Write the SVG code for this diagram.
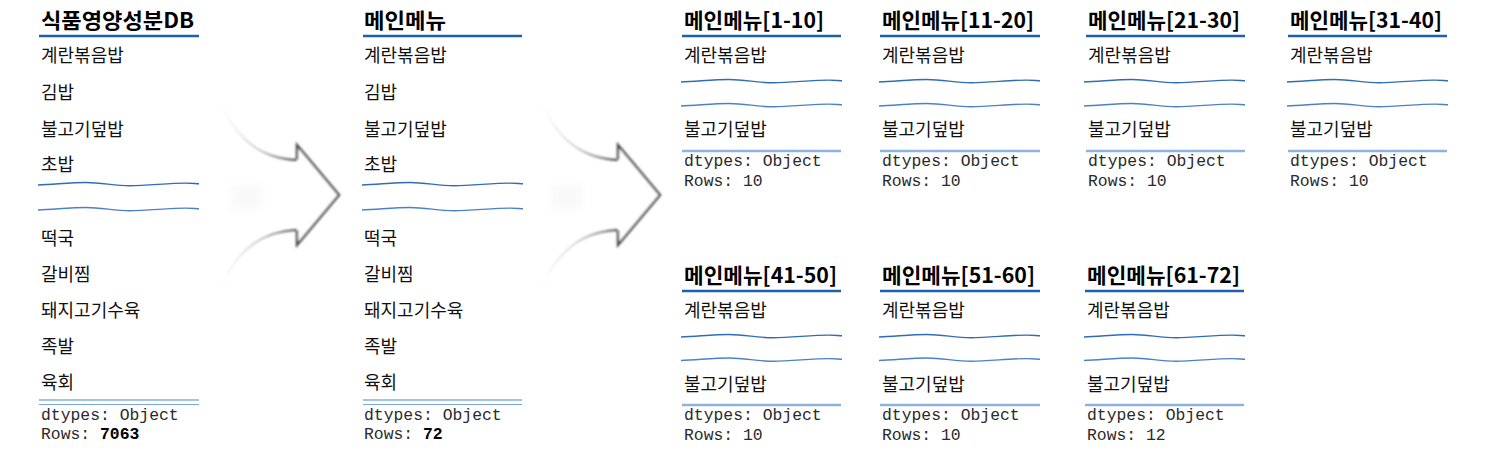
<svg xmlns="http://www.w3.org/2000/svg" xmlns:xlink="http://www.w3.org/1999/xlink" width="1487" height="457" viewBox="0 0 1487 457">
<style>
  .hd { font-family: "Noto Sans CJK KR", "Noto Sans", sans-serif; font-size: 21px; font-weight: 700; fill: #000; }
  .it { font-family: "Noto Sans CJK KR", "Noto Sans", sans-serif; font-size: 18px; fill: #111; }
  .mono { font-family: "Liberation Mono", "DejaVu Sans Mono", monospace; font-size: 16.4px; fill: #2a2a2a; }
  .mono .b { font-weight: 700; fill: #000; }
  .hline { stroke: #1f5fab; stroke-width: 2.4; fill: none; }
  .wave { stroke: #2f6db6; stroke-width: 1.4; fill: none; }
  .wave2 { stroke: #4a82c6; stroke-width: 1.4; fill: none; }
  .bline { stroke: #8fb3df; stroke-width: 2.5; fill: none; }
  .dline { stroke: #4a87c9; stroke-width: 1.2; fill: none; }
  .dline2 { stroke: #7aa6d8; stroke-width: 1.2; fill: none; }
  .head { stroke: #4a4a4a; stroke-width: 2.4; fill: #ffffff; stroke-linejoin: miter; }
</style>
<defs>
  <path id="wv" d="M0,1 C16,0.5 32,-1.5 48,-1.5 C64,-1.5 76,1.7 92,1.7 C110,1.7 130,-0.9 148,-0.9 C154,-0.9 158,-0.3 161,-0.3"/>
  <filter id="soft" x="-30%" y="-30%" width="160%" height="160%">
    <feGaussianBlur stdDeviation="0.9"/>
  </filter>
  <filter id="ghost" x="-50%" y="-50%" width="200%" height="200%">
    <feGaussianBlur stdDeviation="3"/>
  </filter>
  <linearGradient id="tailg" gradientUnits="userSpaceOnUse" x1="222" y1="0" x2="297" y2="0">
    <stop offset="0" stop-color="#999" stop-opacity="0"/>
    <stop offset="0.45" stop-color="#888" stop-opacity="0.35"/>
    <stop offset="1" stop-color="#444" stop-opacity="1"/>
  </linearGradient>
  <g id="arrow">
    <rect x="230" y="184" width="32" height="26" fill="#eeeeee" opacity="0.3" filter="url(#ghost)"/>
    <path d="M222,105 Q245,158 297,160" stroke="url(#tailg)" stroke-width="2.2" fill="none" filter="url(#soft)"/>
    <path d="M222,285 Q245,232 297,230" stroke="url(#tailg)" stroke-width="2.2" fill="none" filter="url(#soft)"/>
    <path class="head" d="M297,160 L297,145 L339,195 L297,245 L297,230" fill="none" filter="url(#soft)"/>
  </g>
</defs>

<rect width="1487" height="457" fill="#ffffff"/>

<g id="connectors">
  <use xlink:href="#arrow"/>
  <use xlink:href="#arrow" transform="translate(321,0)"/>
</g>

<g id="node-db">
  <text class="hd" x="41" y="28" textLength="153" lengthAdjust="spacingAndGlyphs">식품영양성분DB</text>
  <line class="hline" x1="39" y1="36" x2="199" y2="36"/>
  <text class="it" x="41" y="62">계란볶음밥</text>
  <text class="it" x="41" y="99">김밥</text>
  <text class="it" x="41" y="135.5">불고기덮밥</text>
  <text class="it" x="41" y="170.5">초밥</text>
  <use xlink:href="#wv" class="wave" x="38" y="184"/>
  <use xlink:href="#wv" class="wave2" x="38" y="209"/>
  <text class="it" x="41" y="244.5">떡국</text>
  <text class="it" x="41" y="280.5">갈비찜</text>
  <text class="it" x="41" y="316.5">돼지고기수육</text>
  <text class="it" x="41" y="353">족발</text>
  <text class="it" x="41" y="389">육회</text>
  <line class="dline" x1="39" y1="400" x2="199" y2="400"/>
  <line class="dline2" x1="39" y1="404.5" x2="199" y2="404.5"/>
  <text class="mono" x="41" y="419.5">dtypes: Object</text>
  <text class="mono" x="41" y="439">Rows: <tspan class="b">7063</tspan></text>
</g>

<g id="node-main">
  <text class="hd" x="364" y="28" textLength="82" lengthAdjust="spacingAndGlyphs">메인메뉴</text>
  <line class="hline" x1="363" y1="36" x2="522" y2="36"/>
  <text class="it" x="364" y="62">계란볶음밥</text>
  <text class="it" x="364" y="99">김밥</text>
  <text class="it" x="364" y="135.5">불고기덮밥</text>
  <text class="it" x="364" y="170.5">초밥</text>
  <use xlink:href="#wv" class="wave" x="362" y="184"/>
  <use xlink:href="#wv" class="wave2" x="362" y="209"/>
  <text class="it" x="364" y="244.5">떡국</text>
  <text class="it" x="364" y="280.5">갈비찜</text>
  <text class="it" x="364" y="316.5">돼지고기수육</text>
  <text class="it" x="364" y="353">족발</text>
  <text class="it" x="364" y="389">육회</text>
  <line class="dline" x1="363" y1="400" x2="522" y2="400"/>
  <line class="dline2" x1="363" y1="404.5" x2="522" y2="404.5"/>
  <text class="mono" x="364" y="419.5">dtypes: Object</text>
  <text class="mono" x="364" y="439">Rows: <tspan class="b">72</tspan></text>
</g>

<g id="node-1-10">
  <text class="hd" x="684" y="28" textLength="140" lengthAdjust="spacingAndGlyphs">메인메뉴[1-10]</text>
  <line class="hline" x1="682" y1="36" x2="841" y2="36"/>
  <text class="it" x="684" y="62">계란볶음밥</text>
  <use xlink:href="#wv" class="wave" x="681" y="81"/>
  <use xlink:href="#wv" class="wave2" x="681" y="105"/>
  <text class="it" x="684" y="136">불고기덮밥</text>
  <line class="bline" x1="682" y1="151" x2="841" y2="151"/>
  <text class="mono" x="684" y="166">dtypes: Object</text>
  <text class="mono" x="684" y="186">Rows: 10</text>
</g>

<g id="node-11-20">
  <text class="hd" x="882" y="28" textLength="152" lengthAdjust="spacingAndGlyphs">메인메뉴[11-20]</text>
  <line class="hline" x1="880" y1="36" x2="1040" y2="36"/>
  <text class="it" x="882" y="62">계란볶음밥</text>
  <use xlink:href="#wv" class="wave" x="879" y="81"/>
  <use xlink:href="#wv" class="wave2" x="879" y="105"/>
  <text class="it" x="882" y="136">불고기덮밥</text>
  <line class="bline" x1="880" y1="151" x2="1040" y2="151"/>
  <text class="mono" x="882" y="166">dtypes: Object</text>
  <text class="mono" x="882" y="186">Rows: 10</text>
</g>

<g id="node-21-30">
  <text class="hd" x="1088" y="28" textLength="152" lengthAdjust="spacingAndGlyphs">메인메뉴[21-30]</text>
  <line class="hline" x1="1086" y1="36" x2="1245" y2="36"/>
  <text class="it" x="1088" y="62">계란볶음밥</text>
  <use xlink:href="#wv" class="wave" x="1084" y="81"/>
  <use xlink:href="#wv" class="wave2" x="1084" y="105"/>
  <text class="it" x="1088" y="136">불고기덮밥</text>
  <line class="bline" x1="1086" y1="151" x2="1245" y2="151"/>
  <text class="mono" x="1088" y="166">dtypes: Object</text>
  <text class="mono" x="1088" y="186">Rows: 10</text>
</g>

<g id="node-31-40">
  <text class="hd" x="1290" y="28" textLength="152" lengthAdjust="spacingAndGlyphs">메인메뉴[31-40]</text>
  <line class="hline" x1="1288" y1="36" x2="1447" y2="36"/>
  <text class="it" x="1290" y="62">계란볶음밥</text>
  <use xlink:href="#wv" class="wave" x="1287" y="81"/>
  <use xlink:href="#wv" class="wave2" x="1287" y="105"/>
  <text class="it" x="1290" y="136">불고기덮밥</text>
  <line class="bline" x1="1288" y1="151" x2="1447" y2="151"/>
  <text class="mono" x="1290" y="166">dtypes: Object</text>
  <text class="mono" x="1290" y="186">Rows: 10</text>
</g>

<g id="node-41-50">
  <text class="hd" x="684" y="283" textLength="153" lengthAdjust="spacingAndGlyphs">메인메뉴[41-50]</text>
  <line class="hline" x1="682" y1="291" x2="841" y2="291"/>
  <text class="it" x="684" y="317">계란볶음밥</text>
  <use xlink:href="#wv" class="wave" x="681" y="336"/>
  <use xlink:href="#wv" class="wave2" x="681" y="359.5"/>
  <text class="it" x="684" y="391">불고기덮밥</text>
  <line class="bline" x1="682" y1="405" x2="841" y2="405"/>
  <text class="mono" x="684" y="420">dtypes: Object</text>
  <text class="mono" x="684" y="440">Rows: 10</text>
</g>

<g id="node-51-60">
  <text class="hd" x="882" y="283" textLength="153" lengthAdjust="spacingAndGlyphs">메인메뉴[51-60]</text>
  <line class="hline" x1="880" y1="291" x2="1040" y2="291"/>
  <text class="it" x="882" y="317">계란볶음밥</text>
  <use xlink:href="#wv" class="wave" x="879" y="336"/>
  <use xlink:href="#wv" class="wave2" x="879" y="359.5"/>
  <text class="it" x="882" y="391">불고기덮밥</text>
  <line class="bline" x1="880" y1="405" x2="1040" y2="405"/>
  <text class="mono" x="882" y="420">dtypes: Object</text>
  <text class="mono" x="882" y="440">Rows: 10</text>
</g>

<g id="node-61-72">
  <text class="hd" x="1087" y="283" textLength="153" lengthAdjust="spacingAndGlyphs">메인메뉴[61-72]</text>
  <line class="hline" x1="1085" y1="291" x2="1244" y2="291"/>
  <text class="it" x="1087" y="317">계란볶음밥</text>
  <use xlink:href="#wv" class="wave" x="1084" y="336"/>
  <use xlink:href="#wv" class="wave2" x="1084" y="359.5"/>
  <text class="it" x="1087" y="391">불고기덮밥</text>
  <line class="bline" x1="1085" y1="405" x2="1244" y2="405"/>
  <text class="mono" x="1087" y="420">dtypes: Object</text>
  <text class="mono" x="1087" y="440">Rows: 12</text>
</g>
</svg>
